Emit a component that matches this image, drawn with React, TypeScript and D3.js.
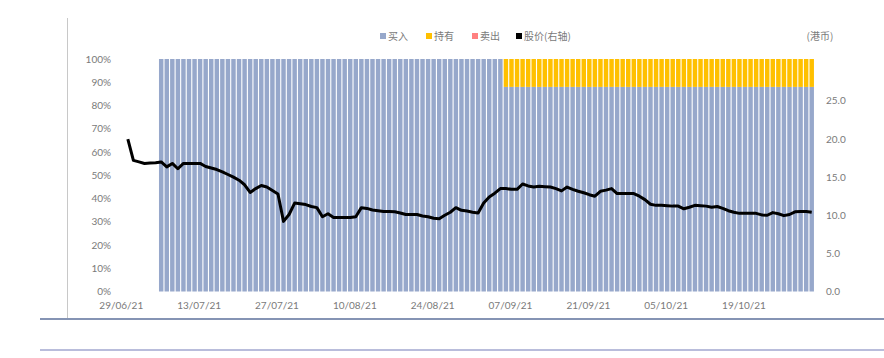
import React from "react";
import * as d3 from "d3";

// Categories: one per calendar day, 29/06/21 .. 31/10/21
const startDate = new Date(2021, 5, 29);
const endDate = new Date(2021, 9, 31);
const dates: Date[] = d3.timeDay.range(startDate, d3.timeDay.offset(endDate, 1));

// Percent of rating "买入" (buy)
const buyPct: (number | null)[] = [
  null, null, null, null, null, null, null,
  100, 100, 100, 100, 100, 100, 100, 100, 100, 100,
  100, 100, 100, 100, 100, 100, 100, 100, 100, 100,
  100, 100, 100, 100, 100, 100, 100, 100, 100, 100,
  100, 100, 100, 100, 100, 100, 100, 100, 100, 100,
  100, 100, 100, 100, 100, 100, 100, 100, 100, 100,
  100, 100, 100, 100, 100, 100, 100, 100, 100, 100,
  100, 100,
  88, 88, 88, 88, 88, 88, 88, 88, 88, 88,
  88, 88, 88, 88, 88, 88, 88, 88, 88, 88,
  88, 88, 88, 88, 88, 88, 88, 88, 88, 88,
  88, 88, 88, 88, 88, 88, 88, 88, 88, 88,
  88, 88, 88, 88, 88, 88, 88, 88, 88, 88,
  88, 88, 88, 88, 88, 88,
];
// Percent of rating "持有" (hold)
const holdPct: (number | null)[] = [
  null, null, null, null, null, null, null,
  0, 0, 0, 0, 0, 0, 0, 0, 0, 0,
  0, 0, 0, 0, 0, 0, 0, 0, 0, 0,
  0, 0, 0, 0, 0, 0, 0, 0, 0, 0,
  0, 0, 0, 0, 0, 0, 0, 0, 0, 0,
  0, 0, 0, 0, 0, 0, 0, 0, 0, 0,
  0, 0, 0, 0, 0, 0, 0, 0, 0, 0,
  0, 0,
  12, 12, 12, 12, 12, 12, 12, 12, 12, 12,
  12, 12, 12, 12, 12, 12, 12, 12, 12, 12,
  12, 12, 12, 12, 12, 12, 12, 12, 12, 12,
  12, 12, 12, 12, 12, 12, 12, 12, 12, 12,
  12, 12, 12, 12, 12, 12, 12, 12, 12, 12,
  12, 12, 12, 12, 12, 12,
];
// Percent of rating "卖出" (sell)
const sellPct: number[] = dates.map(() => 0);

// Share price (HKD), right axis
const price: (number | null)[] = [
  null, 20.0, 17.2, 17.0, 16.8, 16.85, 16.9, 17.0, 16.35, 16.8,
  16.1, 16.8, 16.8, 16.8, 16.8, 16.4, 16.2, 16.0, 15.7, 15.35,
  15.0, 14.6, 14.0, 13.0, 13.5, 13.9, 13.7, 13.25, 12.8, 9.2,
  10.1, 11.6, 11.5, 11.4, 11.15, 11.0, 9.8, 10.2, 9.7, 9.7,
  9.7, 9.7, 9.8, 11.0, 10.9, 10.7, 10.6, 10.5, 10.5, 10.45,
  10.3, 10.1, 10.1, 10.1, 9.9, 9.8, 9.6, 9.55, 10.0, 10.4,
  11.0, 10.65, 10.55, 10.4, 10.3, 11.6, 12.4, 12.9, 13.5, 13.5,
  13.4, 13.4, 14.1, 13.85, 13.7, 13.8, 13.75, 13.7, 13.5, 13.2,
  13.7, 13.4, 13.15, 12.95, 12.7, 12.5, 13.15, 13.3, 13.5, 12.85,
  12.85, 12.85, 12.85, 12.5, 12.05, 11.45, 11.3, 11.3, 11.25, 11.2,
  11.2, 10.85, 11.05, 11.3, 11.25, 11.2, 11.05, 11.15, 10.9, 10.6,
  10.4, 10.25, 10.25, 10.25, 10.25, 10.05, 10.0, 10.35, 10.2, 9.95,
  10.1, 10.45, 10.5, 10.5, 10.4,
];

const leftTicks = [0, 10, 20, 30, 40, 50, 60, 70, 80, 90, 100];
const rightTicks = [0, 5, 10, 15, 20, 25];
const legendItems = [
  { label: "买入", color: "#97A8CB" },
  { label: "持有", color: "#FFC000" },
  { label: "卖出", color: "#FF8080" },
  { label: "股价(右轴)", color: "#000000" },
];
const unitLabel = "(港币)";

const W = 884;
const H = 358;
const plotL = 119.5;
const plotR = 814.5;
const plotT = 59;
const plotB = 291.5;

export default function App() {
  const x = d3
    .scaleBand<number>()
    .domain(dates.map((_, i) => i))
    .range([plotL, plotR])
    .paddingInner(0.2)
    .paddingOuter(0.1);
  const step = x.step();
  const cx = (i: number) => (x(i) as number) + x.bandwidth() / 2;
  const yL = d3.scaleLinear().domain([0, 100]).range([plotB, plotT]);
  const yR = d3.scaleLinear().domain([0, 30.5]).range([plotB, plotT]);

  const lineGen = d3
    .line<number | null>()
    .defined((d) => d != null)
    .x((_, i) => cx(i))
    .y((d) => yR(d as number));

  const labelFont = "Lato, 'Open Sans', sans-serif";
  const cjkFont = "'Noto Sans CJK SC', sans-serif";
  const textColor = "#7a7a7a";

  const tickIdx = dates.map((_, i) => i).filter((i) => i % 14 === 0 && i < 120);
  const fmt = d3.timeFormat("%d/%m/%y");

  return (
    <svg
      width={W}
      height={H}
      style={{ position: "absolute", left: 0, top: 0, background: "#fff" }}
    >
      {/* frame lines */}
      <line x1={67.5} x2={67.5} y1={18} y2={319} stroke="#c8c8c8" strokeWidth={1} />
      <line x1={40} x2={W} y1={319} y2={319} stroke="#8594b4" strokeWidth={2} />
      <line x1={40} x2={W} y1={350} y2={350} stroke="#b9bddb" strokeWidth={2} />

      {/* stacked bars */}
      {dates.map((_, i) => {
        const b = buyPct[i];
        if (b == null) return null;
        const h = holdPct[i] ?? 0;
        const s = sellPct[i] ?? 0;
        const bx = x(i) as number;
        const bw = x.bandwidth();
        return (
          <g key={i}>
            <rect x={bx} width={bw} y={yL(b)} height={yL(0) - yL(b)} fill="#97A8CB" />
            {h > 0 && (
              <rect x={bx} width={bw} y={yL(b + h)} height={yL(b) - yL(b + h)} fill="#FFC000" />
            )}
            {s > 0 && (
              <rect x={bx} width={bw} y={yL(b + h + s)} height={yL(b + h) - yL(b + h + s)} fill="#FF8080" />
            )}
          </g>
        );
      })}

      {/* price line */}
      <path
        d={lineGen(price) || ""}
        fill="none"
        stroke="#000"
        strokeWidth={3}
        strokeLinejoin="round"
      />

      {/* left axis labels */}
      {leftTicks.map((t) => (
        <text
          key={"l" + t}
          x={111}
          y={yL(t)}
          dy="0.35em"
          textAnchor="end"
          fontFamily={labelFont}
          fontSize={10}
          fill={textColor}
        >
          {t + "%"}
        </text>
      ))}

      {/* right axis labels */}
      {rightTicks.map((t) => (
        <text
          key={"r" + t}
          x={826}
          y={yR(t)}
          dy="0.35em"
          textAnchor="start"
          fontFamily={labelFont}
          fontSize={10}
          fill={textColor}
        >
          {t.toFixed(1)}
        </text>
      ))}

      {/* x labels */}
      {tickIdx.map((i) => (
        <text
          key={"x" + i}
          x={cx(i) - 1}
          y={305}
          dy="0.35em"
          textAnchor="middle"
          fontFamily={labelFont}
          fontSize={10}
          fill={textColor}
        >
          {fmt(dates[i])}
        </text>
      ))}

      {/* legend */}
      {(() => {
        const xs = [380, 426, 472, 516];
        return legendItems.map((it, k) => (
          <g key={it.label}>
            <rect x={xs[k]} y={33} width={6} height={6} fill={it.color} />
            <text
              x={xs[k] + 8}
              y={36}
              dy="0.35em"
              fontFamily={cjkFont}
              fontSize={10}
              fill={textColor}
            >
              {it.label}
            </text>
          </g>
        ));
      })()}
      <text
        x={820}
        y={36}
        dy="0.35em"
        textAnchor="middle"
        fontFamily={cjkFont}
        fontSize={10}
        fill={textColor}
      >
        {unitLabel}
      </text>
      <desc>{"step " + step}</desc>
    </svg>
  );
}
